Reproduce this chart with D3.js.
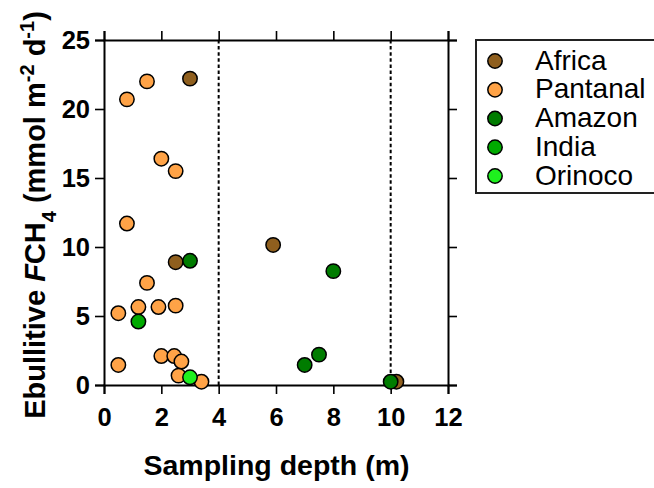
<!DOCTYPE html>
<html><head><meta charset="utf-8">
<script src="https://cdn.jsdelivr.net/npm/d3@7"></script>
<style>body{margin:0;background:#fff}svg{display:block}text{font-family:"Liberation Sans",Arial,sans-serif}</style>
</head><body><svg id="c" width="654" height="488"></svg>
<script>
const seriesNames = ["Africa","Pantanal","Amazon","India","Orinoco"];
const seriesColors = ["#8f5f1e","#ffa347","#007c00","#00aa00","#1ef01e"];
const africaX = [3.0, 5.9, 2.5, 10.2];
const africaY = [22.2, 10.15, 8.9, 0.24];
const pantanalX = [0.8, 1.5, 2.0, 2.5, 0.8, 1.5, 0.5, 1.2, 1.9, 2.5, 0.5, 2.0, 2.45, 2.7, 2.6, 3.4];
const pantanalY = [20.7, 22.0, 16.4, 15.5, 11.7, 7.4, 5.2, 5.65, 5.65, 5.75, 1.45, 2.1, 2.1, 1.7, 0.68, 0.24];
const amazonX = [3.0, 8.0, 7.5, 7.0, 10.0];
const amazonY = [9.0, 8.25, 2.2, 1.45, 0.24];
const indiaX = [1.2];
const indiaY = [4.6];
const orinocoX = [3.0];
const orinocoY = [0.56];
const xTicks = [0, 2, 4, 6, 8, 10, 12];
const yTicks = [0, 5, 10, 15, 20, 25];
const refLines = [4, 10];

const seriesX = [africaX, pantanalX, amazonX, indiaX, orinocoX];
const seriesY = [africaY, pantanalY, amazonY, indiaY, orinocoY];

const svg = d3.select("#c");
const L = 104, R = 448, T = 40, B = 385;
const x = d3.scaleLinear().domain([0, 12]).range([L, R]);
const y = d3.scaleLinear().domain([0, 25]).range([B, T]);

// reference dashed lines
svg.selectAll("line.ref").data(refLines).enter().append("line")
  .attr("x1", d => x(d)).attr("x2", d => x(d)).attr("y1", T).attr("y2", B)
  .attr("stroke", "#000").attr("stroke-width", 2).attr("stroke-dasharray", "3.5,2.6");

function styleAxis(g) {
  g.selectAll(".domain").attr("stroke", "#000").attr("stroke-width", 2);
  g.selectAll(".tick line").attr("stroke", "#000").attr("stroke-width", 1.6);
  g.selectAll("text").attr("fill", "#000").style("font-family", "'Liberation Sans',Arial,sans-serif")
    .style("font-weight", "bold").style("font-size", "25.5px");
}
const xb = svg.append("g").attr("transform", `translate(0,${B})`)
  .call(d3.axisBottom(x).tickValues(xTicks).tickSizeOuter(0).tickSize(9).tickPadding(14).tickFormat(d3.format("d")));
styleAxis(xb);
const xt = svg.append("g").attr("transform", `translate(0,${T})`)
  .call(d3.axisTop(x).tickValues(xTicks).tickSizeOuter(0).tickSize(9).tickFormat(""));
styleAxis(xt);
const yl = svg.append("g").attr("transform", `translate(${L},0)`)
  .call(d3.axisLeft(y).tickValues(yTicks).tickSizeOuter(0).tickSize(9).tickPadding(5).tickFormat(d3.format("d")));
styleAxis(yl);
const yr = svg.append("g").attr("transform", `translate(${R},0)`)
  .call(d3.axisRight(y).tickValues(yTicks).tickSizeOuter(0).tickSize(9).tickFormat(""));
styleAxis(yr);

// points
seriesNames.forEach((name, i) => {
  const pts = seriesX[i].map((v, j) => [v, seriesY[i][j]]);
  svg.append("g").selectAll("circle").data(pts).enter().append("circle")
    .attr("cx", d => x(d[0])).attr("cy", d => y(d[1])).attr("r", 7.2)
    .attr("fill", seriesColors[i]).attr("stroke", "#000").attr("stroke-width", 1.5);
});

// axis titles
svg.append("text").attr("x", (L + R) / 2 + 0.5).attr("y", 475).attr("text-anchor", "middle")
  .style("font-weight", "bold").style("font-size", "28.5px").text("Sampling depth (m)");

const yt = svg.append("text").attr("transform", `translate(45,215) rotate(-90)`)
  .attr("text-anchor", "middle").style("font-weight", "bold").style("font-size", "29px");
yt.append("tspan").text("Ebullitive ");
yt.append("tspan").style("font-style", "italic").text("F");
yt.append("tspan").text("CH");
yt.append("tspan").attr("baseline-shift", "sub").style("font-size", "20px").text("4");
yt.append("tspan").text(" (mmol m");
yt.append("tspan").attr("baseline-shift", "super").style("font-size", "20px").text("-2");
yt.append("tspan").text(" d");
yt.append("tspan").attr("baseline-shift", "super").style("font-size", "20px").text("-1");
yt.append("tspan").text(")");

// legend
const lg = svg.append("g");
lg.append("rect").attr("x", 476).attr("y", 40).attr("width", 200).attr("height", 153)
  .attr("fill", "none").attr("stroke", "#222").attr("stroke-width", 2);
const ly = d3.scalePoint().domain(seriesNames).range([61, 176]);
seriesNames.forEach((name, i) => {
  lg.append("circle").attr("cx", 495).attr("cy", ly(name)).attr("r", 7.2)
    .attr("fill", seriesColors[i]).attr("stroke", "#000").attr("stroke-width", 1.5);
  lg.append("text").attr("x", 535).attr("y", ly(name) + 8.5).style("font-size", "28px").text(name);
});
</script></body></html>
